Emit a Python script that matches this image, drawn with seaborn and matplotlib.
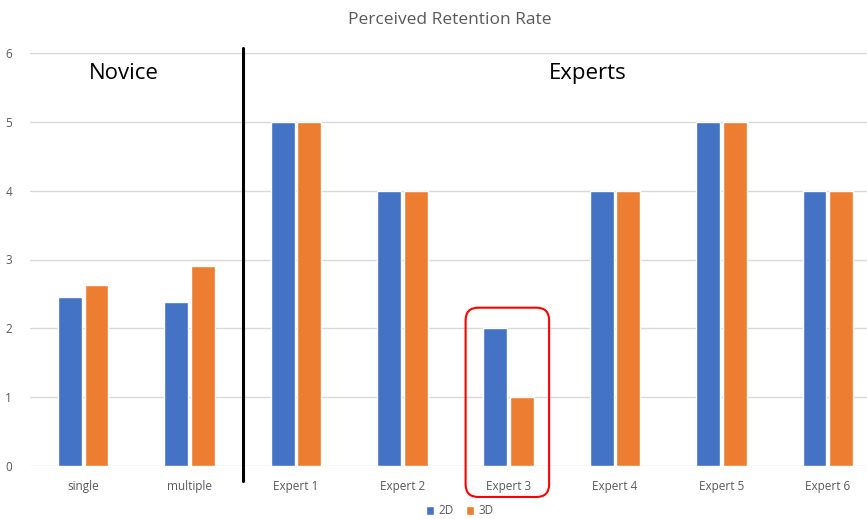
import seaborn as sns
import matplotlib.pyplot as plt
import pandas as pd
from matplotlib.patches import FancyBboxPatch

categories = ["single", "multiple", "Expert 1", "Expert 2", "Expert 3",
              "Expert 4", "Expert 5", "Expert 6"]
values_2d = [2.45, 2.38, 5, 4, 2, 4, 5, 4]
values_3d = [2.63, 2.91, 5, 4, 1, 4, 5, 4]
series = ["2D", "3D"]

df = pd.DataFrame({
    "Category": categories * 2,
    "Value": values_2d + values_3d,
    "Series": [series[0]] * len(categories) + [series[1]] * len(categories),
})

sns.set_style("white")
plt.rcParams["font.family"] = ["Open Sans", "DejaVu Sans"]

fig = plt.figure(figsize=(8.67, 5.19), dpi=100)
# plot area runs a little past the right edge, like the cropped original
ax = fig.add_axes([30 / 867, 53 / 519, 851 / 867, 413 / 519])

sns.barplot(data=df, x="Category", y="Value", hue="Series", order=categories,
            palette=["#4472C4", "#ED7D31"], width=0.5, gap=0.1, ax=ax,
            saturation=1, legend=True)

ax.set_ylim(0, 6)
ax.set_yticks(range(0, 7))
ax.grid(axis="y", color="#D9D9D9", linewidth=1)
ax.set_axisbelow(True)
for s in ax.spines.values():
    s.set_visible(False)
ax.tick_params(axis="both", length=0, labelsize=8.5, labelcolor="#595959")
ax.tick_params(axis="y", pad=13)
ax.tick_params(axis="x", pad=10)
ax.set_xlabel("")
ax.set_ylabel("")
ax.set_xlim(-0.5, len(categories) - 0.5)

fig.text(450 / 867, 1 - 20 / 519, "Perceived Retention Rate", color="#595959",
         fontsize=12.5, ha="center", va="center")

# divider between novice and expert groups
ax.plot([1.5, 1.5], [6.07, -0.22], color="black", linewidth=2.2, clip_on=False)
ax.text(0.38, 5.7, "Novice", ha="center", va="center", fontsize=16, color="black")
ax.text(4.74, 5.7, "Experts", ha="center", va="center", fontsize=16, color="black")

# highlight box around Expert 3
box = FancyBboxPatch((3.595, -0.45), 0.785, 2.75,
                     boxstyle="round,pad=0,rounding_size=0.12",
                     mutation_aspect=1 / 0.65,
                     fill=False, edgecolor="red", linewidth=1.5, clip_on=False)
ax.add_patch(box)

ax.legend(loc="center", bbox_to_anchor=(430 / 851, -45 / 413), ncol=2, frameon=False,
          fontsize=8.5, handlelength=0.7, handleheight=0.7, columnspacing=1.0,
          handletextpad=0.4, labelcolor="#595959", borderpad=0.1)

fig.savefig("out.png", dpi=100)
